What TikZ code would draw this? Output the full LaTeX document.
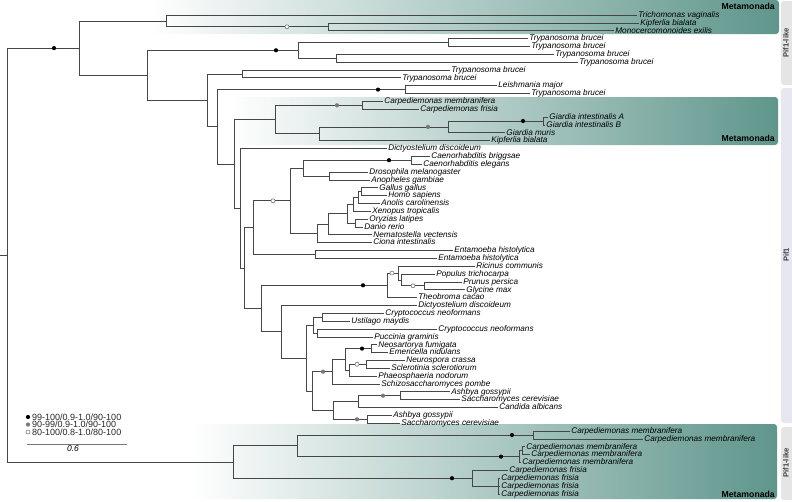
\documentclass[tikz,border=0pt]{standalone}
\usepackage{fontspec}
\setmainfont{Liberation Sans}
\usetikzlibrary{calc}
\definecolor{cladeteal}{RGB}{95,150,140}
\definecolor{branchgray}{RGB}{70,70,70}
\definecolor{barlike}{RGB}{229,229,229}
\definecolor{barpif}{RGB}{231,231,241}
\definecolor{supgray}{RGB}{120,120,120}
\tikzset{
    branch/.style={draw=branchgray, line width=0.7pt},
    taxon/.style={anchor=west, inner sep=1.2pt, font=\fontsize{8.2}{8.2}\selectfont\itshape, text height=5.8pt, text depth=1.2pt},
    supblack/.style={circle, fill=black, inner sep=0pt, minimum size=4.2pt},
    supgrey/.style={circle, fill=supgray, inner sep=0pt, minimum size=4.2pt},
    supopen/.style={circle, draw=supgray, fill=white, line width=0.6pt, inner sep=0pt, minimum size=4pt},
    cladebox/.style={left color=white, right color=cladeteal, rounded corners=3pt},
    cladename/.style={anchor=east, font=\fontsize{8.7}{8.7}\selectfont\bfseries, inner sep=0pt},
    genebar/.style={rounded corners=3pt},
    genename/.style={rotate=90, font=\fontsize{7.6}{7.6}\selectfont\bfseries, text=black!75},
    keytext/.style={anchor=west, inner sep=0pt, font=\fontsize{9}{9}\selectfont, text=black!85}
}
\begin{document}
\begin{tikzpicture}[x=1pt, y=-1pt]
    \useasboundingbox (0,0) rectangle (792,501);
    \shade[cladebox] (150,0) rectangle (779,34);
    \shade[cladebox] (230,97) rectangle (778,145);
    \shade[cladebox] (190,424) rectangle (777,499);
    \fill[barlike, genebar] (781,1) rectangle (796,85);
    \fill[barpif, genebar] (781,88) rectangle (796,423);
    \fill[barlike, genebar] (781,427) rectangle (796,500);
    \node[genename] (g1) at (786,43) {Pif1-like};
    \node[genename] (g2) at (786,255) {Pif1};
    \node[genename] (g3) at (786,463) {Pif1-like};
    \node[cladename] (c1) at (775,6) {Metamonada};
    \node[cladename] (c2) at (775,138) {Metamonada};
    \node[cladename] (c3) at (775,494) {Metamonada};

    \coordinate (R0) at (0,255.1);
    \coordinate (R) at (7,255.1);
    \coordinate (A) at (79,48.1);
    \coordinate (M1) at (166,20.9);
    \coordinate (M2) at (328,26.8);
    \coordinate (T8) at (147,75.3);
    \coordinate (T1) at (298,50.3);
    \coordinate (T2) at (448,42.5);
    \coordinate (T3) at (336,58.2);
    \coordinate (T7) at (207,100.3);
    \coordinate (T4) at (242,73.9);
    \coordinate (T6) at (217,126.7);
    \coordinate (T5) at (405,89.6);
    \coordinate (C3) at (234,163.9);
    \coordinate (C2) at (275,119.5);
    \coordinate (C1) at (362,105.3);
    \coordinate (G3) at (319,133.7);
    \coordinate (G2) at (448,126.9);
    \coordinate (G1) at (543,121.0);
    \coordinate (D1) at (240,208.3);
    \coordinate (B1) at (244,268.1);
    \coordinate (A5) at (253,227.6);
    \coordinate (A4) at (290,200.8);
    \coordinate (A3) at (303,168.1);
    \coordinate (A1) at (411,160.2);
    \coordinate (A2) at (329,175.9);
    \coordinate (V7) at (317,233.5);
    \coordinate (V6) at (328,224.3);
    \coordinate (V5) at (347,213.7);
    \coordinate (V3) at (353,204.4);
    \coordinate (V2) at (358,197.5);
    \coordinate (V1) at (361,191.6);
    \coordinate (V4) at (355,223.0);
    \coordinate (E1) at (315,254.4);
    \coordinate (P5) at (261,308.5);
    \coordinate (P4) at (387,285.3);
    \coordinate (P3) at (398,273.1);
    \coordinate (P2) at (401,279.9);
    \coordinate (P1) at (424,285.8);
    \coordinate (D2) at (281,331.8);
    \coordinate (F14) at (306,358.1);
    \coordinate (F3) at (313,325.1);
    \coordinate (F1) at (322,317.2);
    \coordinate (F2) at (317,332.9);
    \coordinate (F13) at (312,391.1);
    \coordinate (F8) at (332,371.7);
    \coordinate (F7) at (345,359.4);
    \coordinate (F4) at (371,348.6);
    \coordinate (F6) at (349,370.2);
    \coordinate (F5) at (366,364.3);
    \coordinate (F12) at (333,410.4);
    \coordinate (F10) at (358,401.6);
    \coordinate (F9) at (400,395.7);
    \coordinate (F11) at (367,419.3);
    \coordinate (L7) at (233,462.1);
    \coordinate (L4) at (297,445.8);
    \coordinate (L1) at (533,435.0);
    \coordinate (L3) at (519,456.6);
    \coordinate (L2) at (522,450.7);
    \coordinate (L6) at (472,478.2);
    \coordinate (L5) at (498,486.0);

    \foreach \k/\len/\name in {0/637/Trichomonas vaginalis, 1/639/Kipferlia bialata,
        2/614/Monocercomonoides exilis, 3/528/Trypanosoma brucei, 4/530/Trypanosoma brucei,
        5/554/Trypanosoma brucei, 6/578/Trypanosoma brucei, 7/450/Trypanosoma brucei,
        8/401/Trypanosoma brucei, 9/497/Leishmania major, 10/530/Trypanosoma brucei,
        11/383/Carpediemonas membranifera, 12/419/Carpediemonas frisia,
        13/548/Giardia intestinalis A, 14/545/Giardia intestinalis B, 15/505/Giardia muris,
        16/490/Kipferlia bialata, 17/387/Dictyostelium discoideum,
        18/430/Caenorhabditis briggsae, 19/422/Caenorhabditis elegans,
        20/368/Drosophila melanogaster, 21/370/Anopheles gambiae, 22/378/Gallus gallus,
        23/387/Homo sapiens, 24/380/Anolis carolinensis, 25/371/Xenopus tropicalis,
        26/368/Oryzias latipes, 27/363/Danio rerio, 28/372/Nematostella vectensis,
        29/372/Ciona intestinalis, 30/453/Entamoeba histolytica, 31/437/Entamoeba histolytica,
        32/475/Ricinus communis, 33/435/Populus trichocarpa, 34/462/Prunus persica,
        35/465/Glycine max, 36/417/Theobroma cacao, 37/417/Dictyostelium discoideum,
        38/384/Cryptococcus neoformans, 39/350/Ustilago maydis, 40/437/Cryptococcus neoformans,
        41/373/Puccinia graminis, 42/377/Neosartorya fumigata, 43/388/Emericella nidulans,
        44/405/Neurospora crassa, 45/390/Sclerotinia sclerotiorum, 46/377/Phaeosphaeria nodorum,
        47/380/Schizosaccharomyces pombe, 48/450/Ashbya gossypii, 49/460/Saccharomyces cerevisiae,
        50/498/Candida albicans, 51/392/Ashbya gossypii, 52/400/Saccharomyces cerevisiae,
        53/570/Carpediemonas membranifera, 54/643/Carpediemonas membranifera,
        55/525/Carpediemonas membranifera, 56/530/Carpediemonas membranifera,
        57/521/Carpediemonas membranifera, 58/508/Carpediemonas frisia,
        59/500/Carpediemonas frisia, 60/500/Carpediemonas frisia, 61/500/Carpediemonas frisia}
    {
        \coordinate (l\k) at (\len,{15+7.85*\k});
        \node[taxon] (n\k) at (l\k) {\name};
    }

    \draw[branch] (R0) -- (R);
    \foreach \p/\c in {R/A, R/L7, A/M1, A/T8, M1/l0, M1/M2, M2/l1, M2/l2,
        T8/T1, T8/T7, T1/T2, T1/T3, T2/l3, T2/l4, T3/l5, T3/l6,
        T7/T4, T7/T6, T4/l7, T4/l8, T6/T5, T6/C3, T5/l9, T5/l10,
        C3/C2, C3/D1, C2/C1, C2/G3, C1/l11, C1/l12,
        G3/G2, G3/l16, G2/G1, G2/l15, G1/l13, G1/l14,
        D1/l17, D1/B1, B1/A5, B1/P5, A5/A4, A5/E1, E1/l30, E1/l31,
        A4/A3, A4/V7, A3/A1, A3/A2, A1/l18, A1/l19, A2/l20, A2/l21,
        V7/V6, V7/l29, V6/V5, V6/l28, V5/V3, V5/V4, V3/V2, V3/l25,
        V2/V1, V2/l24, V1/l22, V1/l23, V4/l26, V4/l27,
        P5/P4, P5/D2, P4/P3, P4/l36, P3/l32, P3/P2, P2/l33, P2/P1, P1/l34, P1/l35,
        D2/l37, D2/F14, F14/F3, F14/F13, F3/F1, F3/F2, F1/l38, F1/l39, F2/l40, F2/l41,
        F13/F8, F13/F12, F8/F7, F8/l47, F7/F4, F7/F6, F4/l42, F4/l43,
        F6/F5, F6/l46, F5/l44, F5/l45, F12/F10, F12/F11, F10/F9, F10/l50,
        F9/l48, F9/l49, F11/l51, F11/l52,
        L7/L4, L7/L6, L4/L1, L4/L3, L1/l53, L1/l54, L3/L2, L3/l57, L2/l55, L2/l56,
        L6/l58, L6/L5, L5/l59, L5/l60, L5/l61}
        \draw[branch] (\p) |- (\c);

    \node[supblack] (s1) at (54,48.1) {};
    \node[supblack] (s2) at (276,50.3) {};
    \node[supblack] (s3) at (378,89.6) {};
    \node[supblack] (s4) at (523,121.0) {};
    \node[supblack] (s5) at (389,160.2) {};
    \node[supblack] (s6) at (363,285.3) {};
    \node[supblack] (s7) at (362,348.6) {};
    \node[supblack] (s8) at (512,435.0) {};
    \node[supblack] (s9) at (501,456.6) {};
    \node[supblack] (s10) at (452,478.2) {};
    \node[supgrey] (s11) at (337,105.3) {};
    \node[supgrey] (s12) at (428,126.9) {};
    \node[supgrey] (s13) at (323,371.7) {};
    \node[supgrey] (s14) at (383,395.7) {};
    \node[supgrey] (s15) at (357,419.3) {};
    \node[supopen] (s16) at (287,26.8) {};
    \node[supopen] (s17) at (273,200.8) {};
    \node[supopen] (s18) at (392,273.1) {};
    \node[supopen] (s19) at (413,285.8) {};
    \node[supopen] (s20) at (357,364.3) {};

    \node[supblack] (k1) at (28,417) {};
    \node[supgrey] (k2) at (28,424.5) {};
    \node[supopen] (k3) at (28,432) {};
    \node[keytext] (k1t) at (32,417) {99-100/0.9-1.0/90-100};
    \node[keytext] (k2t) at (32,424.5) {90-99/0.9-1.0/90-100};
    \node[keytext] (k3t) at (32,432) {80-100/0.8-1.0/80-100};
    \coordinate (sb0) at (27,444);
    \coordinate (sb1) at (127,444);
    \draw[branch, draw=supgray] (sb0) -- node[pos=0.46, below=1pt, inner sep=0pt, font=\fontsize{8.5}{8.5}\selectfont\itshape] (sbl) {0.6} (sb1);
\end{tikzpicture}
\end{document}
